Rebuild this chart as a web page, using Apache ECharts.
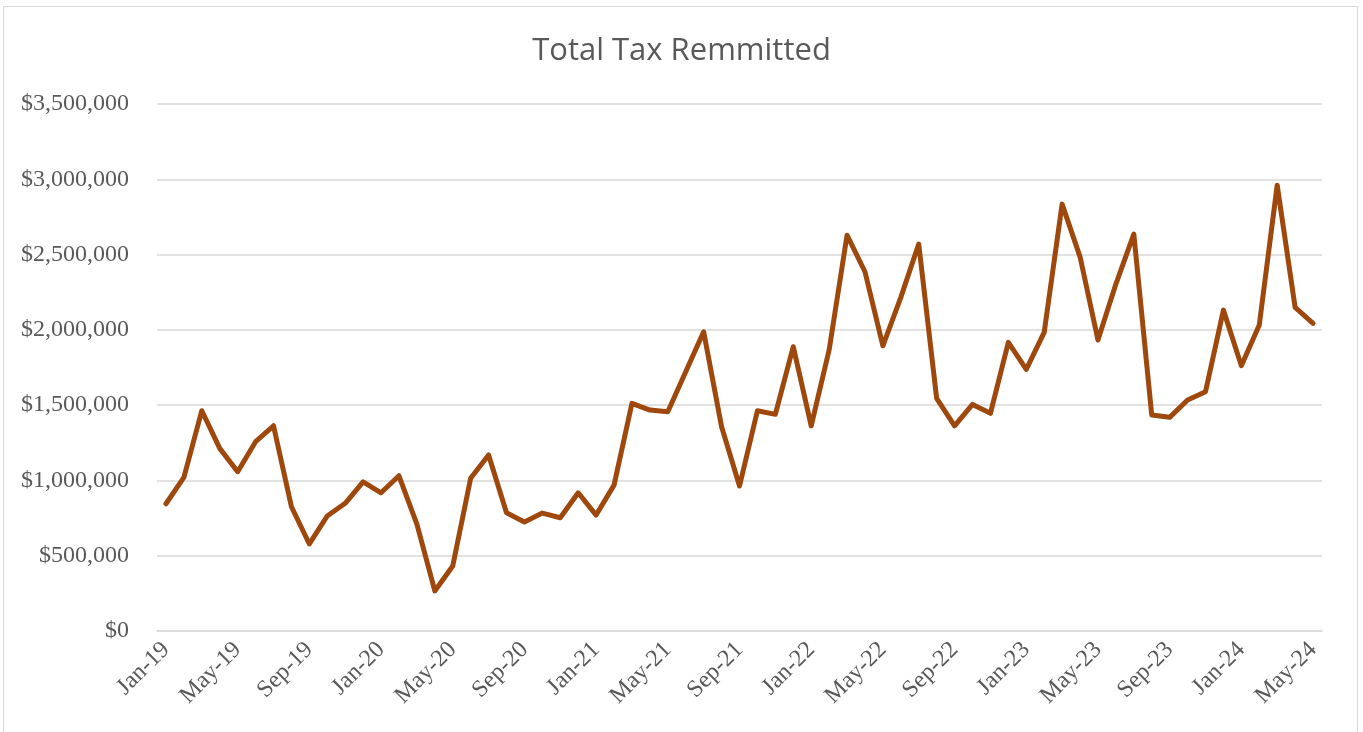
<!DOCTYPE html>
<html>
<head>
<meta charset="utf-8">
<script src="https://cdn.jsdelivr.net/npm/echarts@6/dist/echarts.min.js"></script>
<style>
html,body{margin:0;padding:0;background:#fff;}
#frame{position:absolute;left:3px;top:6px;width:1355px;height:740px;border:1px solid #d9d9d9;box-sizing:border-box;}
#chart{position:absolute;left:0;top:0;width:1363px;height:732px;}
</style>
</head>
<body>
<div id="frame"></div>
<div id="chart"></div>
<script>
const titleText = "Total Tax Remmitted";
const months = [
  "Jan-19","Feb-19","Mar-19","Apr-19","May-19","Jun-19","Jul-19","Aug-19","Sep-19","Oct-19","Nov-19","Dec-19",
  "Jan-20","Feb-20","Mar-20","Apr-20","May-20","Jun-20","Jul-20","Aug-20","Sep-20","Oct-20","Nov-20","Dec-20",
  "Jan-21","Feb-21","Mar-21","Apr-21","May-21","Jun-21","Jul-21","Aug-21","Sep-21","Oct-21","Nov-21","Dec-21",
  "Jan-22","Feb-22","Mar-22","Apr-22","May-22","Jun-22","Jul-22","Aug-22","Sep-22","Oct-22","Nov-22","Dec-22",
  "Jan-23","Feb-23","Mar-23","Apr-23","May-23","Jun-23","Jul-23","Aug-23","Sep-23","Oct-23","Nov-23","Dec-23",
  "Jan-24","Feb-24","Mar-24","Apr-24","May-24"
];
const totalTax = [
  845000,1020000,1463000,1213000,1058000,1257000,1363000,825000,578000,764000,848000,991000,
  918000,1031000,710000,266000,432000,1014000,1169000,785000,724000,783000,752000,918000,
  770000,969000,1512000,1467000,1456000,1722000,1987000,1357000,963000,1463000,1439000,1888000,
  1362000,1866000,2629000,2386000,1894000,2216000,2570000,1545000,1363000,1505000,1446000,1917000,
  1738000,1983000,2835000,2485000,1932000,2304000,2636000,1434000,1419000,1534000,1589000,2131000,
  1762000,2032000,2961000,2149000,2043000
];
const yMin = 0, yMax = 3500000, yStep = 500000;

const chart = echarts.init(document.getElementById('chart'), null, {renderer:'canvas'});
chart.setOption({
  animation:false,
  backgroundColor:'transparent',
  title:{
    text:titleText,
    left:'center',
    top:31,
    textStyle:{fontFamily:'Open Sans',fontSize:31,fontWeight:'normal',color:'#595959'}
  },
  grid:{left:157,right:41,top:104,bottom:101,containLabel:false},
  xAxis:{
    type:'category',
    data:months,
    boundaryGap:true,
    axisLine:{show:true,lineStyle:{color:'#d9d9d9',width:1.5}},
    axisTick:{show:false},
    axisLabel:{
      interval:3,
      rotate:45,
      margin:15,
      fontFamily:'Liberation Serif',
      fontSize:24,
      color:'#595959'
    },
    splitLine:{show:false}
  },
  yAxis:{
    type:'value',
    min:yMin,max:yMax,interval:yStep,
    axisLine:{show:false},
    axisTick:{show:false},
    axisLabel:{
      margin:28,
      fontFamily:'Liberation Serif',
      fontSize:24,
      color:'#595959',
      formatter:v=>'$'+v.toLocaleString('en-US')
    },
    splitLine:{lineStyle:{color:'#d9d9d9',width:1.5}}
  },
  series:[{
    type:'line',
    data:totalTax,
    showSymbol:false,
    symbol:'none',
    smooth:false,
    lineStyle:{color:'#9E480E',width:5,cap:'round',join:'round'}
  }]
});
</script>
</body>
</html>
